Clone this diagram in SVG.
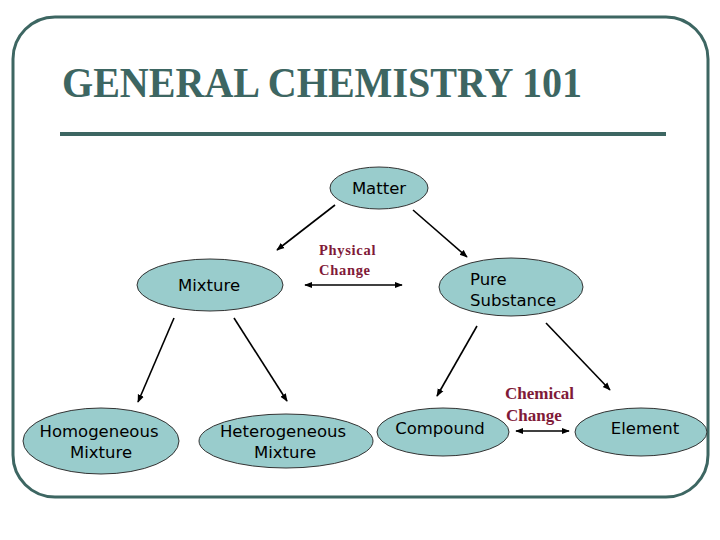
<svg xmlns="http://www.w3.org/2000/svg" width="720" height="540" viewBox="0 0 720 540">
<style>
.frame{fill:none;stroke:#3d6662;stroke-width:3}
.node ellipse{fill:#99cccc;stroke:#333;stroke-width:1}
.node text{font-family:"DejaVu Sans",sans-serif;font-size:16.5px;fill:#000;text-anchor:middle}
.conn line{stroke:#000;stroke-width:1.6}
.lbl{font-family:"Liberation Serif",serif;font-weight:bold;fill:#7f1a38}
</style>
<defs>
<marker id="ah" viewBox="0 0 10 10" refX="9" refY="5" markerWidth="8" markerHeight="8" orient="auto-start-reverse" markerUnits="userSpaceOnUse">
<path d="M0,1 L10,5 L0,9 z" fill="#000"/>
</marker>
</defs>
<rect width="720" height="540" fill="#fff"/>
<rect class="frame" x="13" y="17" width="695" height="480" rx="42" ry="42"/>
<text x="62" y="97" font-family="Liberation Serif,serif" font-weight="bold" font-size="43" fill="#3d6662" textLength="520" lengthAdjust="spacingAndGlyphs">GENERAL CHEMISTRY 101</text>
<line x1="60" y1="134" x2="666" y2="134" stroke="#3d6662" stroke-width="4"/>

<g class="conn">
<line x1="335" y1="205" x2="277" y2="250" marker-end="url(#ah)"/>
<line x1="413" y1="210" x2="467" y2="257" marker-end="url(#ah)"/>
<line x1="174" y1="318" x2="138" y2="402" marker-end="url(#ah)"/>
<line x1="234" y1="318" x2="287" y2="401" marker-end="url(#ah)"/>
<line x1="477" y1="326" x2="437" y2="396" marker-end="url(#ah)"/>
<line x1="546" y1="323" x2="610" y2="390" marker-end="url(#ah)"/>
<line x1="305" y1="285" x2="402" y2="285" marker-start="url(#ah)" marker-end="url(#ah)"/>
<line x1="516" y1="431" x2="569" y2="431" marker-start="url(#ah)" marker-end="url(#ah)"/>
</g>

<text class="lbl" font-size="14.5" letter-spacing="0.7" x="319" y="255">Physical</text>
<text class="lbl" font-size="14.5" letter-spacing="0.7" x="319" y="275">Change</text>
<text class="lbl" font-size="17" x="505" y="399">Chemical</text>
<text class="lbl" font-size="17" x="506" y="421">Change</text>

<g id="matter" class="node"><ellipse cx="379" cy="188" rx="49" ry="21"/><text x="379" y="194">Matter</text></g>
<g id="mixture" class="node"><ellipse cx="210" cy="285" rx="73" ry="26"/><text x="209" y="291">Mixture</text></g>
<g id="pure" class="node"><ellipse cx="511" cy="287" rx="72" ry="29"/><text x="470" y="285" style="text-anchor:start">Pure</text><text x="470" y="306" style="text-anchor:start">Substance</text></g>
<g id="homogeneous" class="node"><ellipse cx="101" cy="441" rx="78" ry="33"/><text x="99" y="437">Homogeneous</text><text x="101" y="458">Mixture</text></g>
<g id="heterogeneous" class="node"><ellipse cx="286" cy="441" rx="87" ry="27"/><text x="283" y="437">Heterogeneous</text><text x="285" y="458">Mixture</text></g>
<g id="compound" class="node"><ellipse cx="443" cy="432" rx="66" ry="24"/><text x="440" y="434">Compound</text></g>
<g id="element" class="node"><ellipse cx="641" cy="432" rx="66" ry="24"/><text x="645" y="434">Element</text></g>
</svg>
